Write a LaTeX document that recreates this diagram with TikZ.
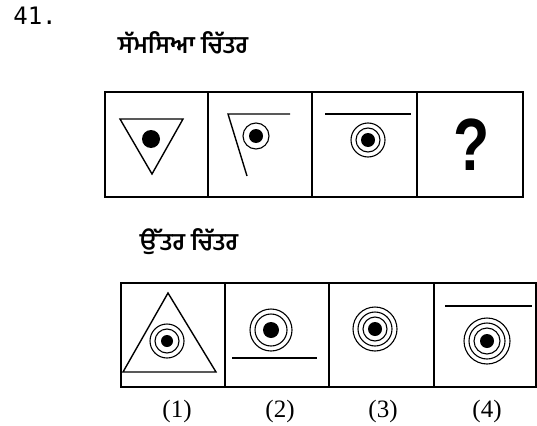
\documentclass[tikz,border=0pt]{standalone}
\usepackage{fontspec}
\setmainfont{Liberation Serif}
\setsansfont{Liberation Sans}
\setmonofont{DejaVu Sans Mono}
\newfontfamily\gurmukhi[Script=Gurmukhi]{Hind Jalandhar}
\usetikzlibrary{positioning}

\begin{document}
\begin{tikzpicture}[x=1pt, y=-1pt,
    cellbox/.style={line width=1.6pt},
    figline/.style={line width=1.4pt},
    ring/.style={line width=1.1pt},
    title/.style={font=\gurmukhi\bfseries\fontsize{24}{24}\selectfont, inner sep=0pt},
    optlabel/.style={font=\fontsize{25}{25}\selectfont, inner sep=0pt}]
    \useasboundingbox (0,0) rectangle (537,425);
    % question number and headings
    \node[font=\ttfamily\fontsize{24}{24}\selectfont, inner sep=0pt] (qno) at (35,16) {41.};
    \node[title] (probtitle) at (183,43) {ਸੱਮਸਿਆ ਚਿੱਤਰ};
    \node[title] (anstitle) at (189,242) {ਉੱਤਰ ਚਿੱਤਰ};

    % problem figures
    \draw[cellbox] (105,92) rectangle (523,197);
    \foreach \x in {208,312,417}
        \draw[cellbox] (\x,92) -- (\x,197);
    \draw[figline] (120,119) -- (183,119) -- (152,174) -- cycle;
    \fill (151,139) circle (9);
    \draw[figline] (290,114) -- (228,114) -- (247,176);
    \draw[ring] (256,136) circle (13);
    \fill (256,136) circle (7);
    \draw[figline] (325,114) -- (411,114);
    \draw[ring] (368,140) circle (17) (368,140) circle (12);
    \fill (368,140) circle (7);
    \node[font=\sffamily\bfseries\fontsize{74}{74}\selectfont, inner sep=0pt, xscale=0.8] (qmark) at (472,145) {?};

    % answer figures
    \draw[cellbox] (121,283) rectangle (536,387);
    \foreach \x in {225,329,434}
        \draw[cellbox] (\x,283) -- (\x,387);
    \draw[figline] (168,293) -- (216,372) -- (123,372) -- cycle;
    \draw[ring] (167,341) circle (17) (167,341) circle (12);
    \fill (167,341) circle (6);
    \draw[ring] (271,330) circle (21) (271,330) circle (16);
    \fill (271,330) circle (8);
    \draw[figline] (232,358) -- (317,358);
    \draw[ring] (375,329) circle (22) (375,329) circle (17) (375,329) circle (12);
    \fill (375,329) circle (7);
    \draw[figline] (445,306) -- (532,306);
    \draw[ring] (487,341) circle (23) (487,341) circle (18) (487,341) circle (13);
    \fill (487,341) circle (7);

    % option numbers
    \node[optlabel] (opt1) at (177,411) {(1)};
    \node[optlabel] (opt2) at (280,411) {(2)};
    \node[optlabel] (opt3) at (383,411) {(3)};
    \node[optlabel] (opt4) at (487,411) {(4)};
\end{tikzpicture}
\end{document}
